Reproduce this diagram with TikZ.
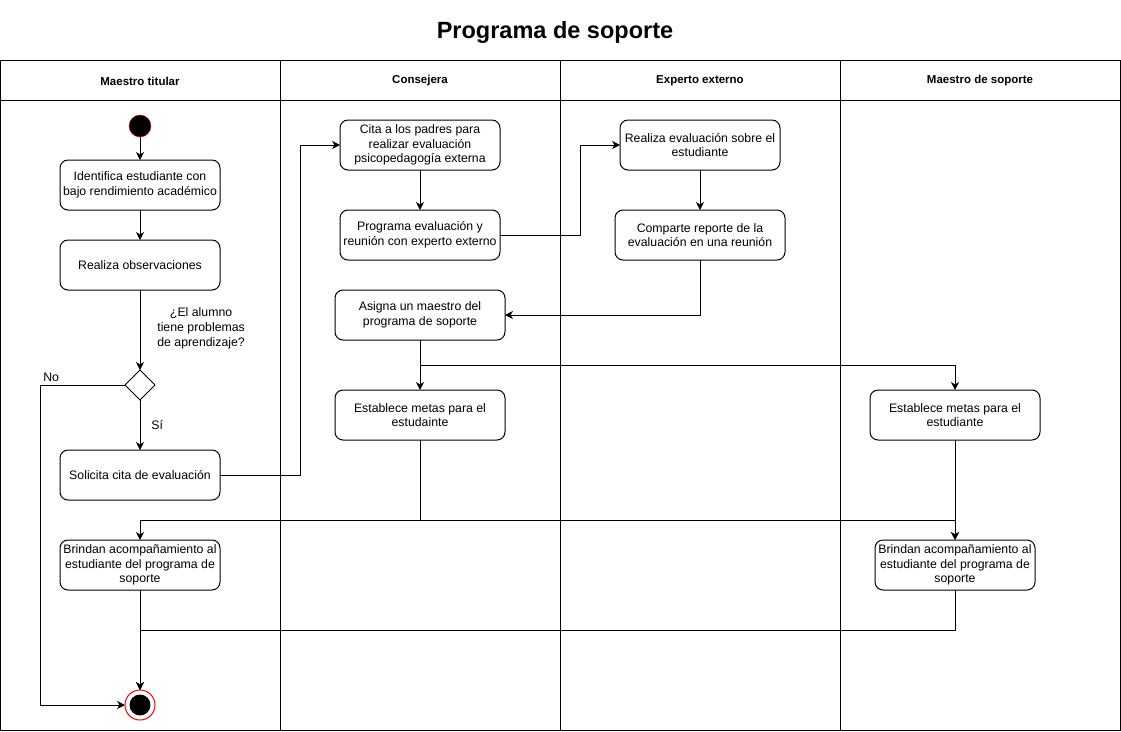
\documentclass[tikz,border=0pt]{standalone}
\usepackage{fontspec}
\setmainfont{Liberation Sans}
\usepackage{xcolor}
\usetikzlibrary{positioning,arrows.meta,shapes.geometric,calc}

\begin{document}
\begin{tikzpicture}[x=1pt,y=-1pt,node distance=30pt,every node/.style={outer sep=0pt,font=\fontsize{12.3}{14.7}\selectfont}]
\tikzset{sarrow/.style={-{Stealth[length=8pt,width=8pt,inset=2.5pt]},line width=1pt}}
\tikzset{act/.style={draw,line width=1pt,rounded corners=8pt,minimum width=160pt,minimum height=50pt,align=center,inner sep=1pt}}
\tikzset{lane/.style={draw,line width=1pt}}
\tikzset{lanetitle/.style={font=\fontsize{11.5}{14}\selectfont\bfseries}}

  \useasboundingbox (0,0) rectangle (1121,731);

  % pool
  \node(T) at (555,32) {\fontsize{23.5}{28}\selectfont\bfseries Programa de soporte};
  \draw[lane] (0.5,60) rectangle (1120,730);
  \draw[lane] (0.5,100) -- (1120,100);
  \foreach \x in {280,560,840} \draw[lane] (\x,60) -- (\x,730);
  \node(H0) [lanetitle] at (140,81) {Maestro titular};
  \node(H1) [lanetitle] at (420,81) {Consejera};
  \node(H2) [lanetitle] at (700,81) {Experto externo};
  \node(H3) [lanetitle] at (980,81) {Maestro de soporte};

  % Maestro titular
  \node(MT0) [circle,fill=black,draw=red,minimum size=22pt,inner sep=0pt] at (140,126) {};
  \node(MT1) [act,below=23pt of MT0] {Identifica estudiante con\\bajo rendimiento académico};
  \node(MT2) [act,below=of MT1] {Realiza observaciones};
  \node(D) [diamond,draw,line width=1pt,minimum size=30pt,inner sep=0pt,below=80pt of MT2] {};
  \node(MT3) [act,below=50pt of D] {Solicita cita de evaluación};
  \node(MT4) [act,below=40pt of MT3] {Brindan acompañamiento al\\estudiante del programa de\\soporte};
  \node(MT5) [circle,draw=red,line width=1pt,minimum size=30pt,inner sep=0pt,below=100pt of MT4] {};
  \node(MT5i) [circle,fill=black,minimum size=21pt,inner sep=0pt] at (MT5) {};

  % Consejera
  \node(C0) [act] at (420,145) {Cita a los padres para\\realizar evaluación\\psicopedagogía externa};
  \node(C1) [act,below=40pt of C0] {Programa evaluación y\\reunión con experto externo};
  \node(C2) [act,minimum width=170pt,below=of C1] {Asigna un maestro del\\programa de soporte};
  \node(C3) [act,minimum width=170pt,below=50pt of C2] {Establece metas para el\\estudainte};

  % Experto externo
  \node(E0) [act] at (700,145) {Realiza evaluación sobre el\\estudiante};
  \node(E1) [act,minimum width=170pt,below=40pt of E0] {Comparte reporte de la\\evaluación en una reunión};

  % Maestro de soporte
  \node(S0) [act,minimum width=170pt] at (955,415) {Establece metas para el\\estudiante};
  \node(S1) [act,below=100pt of S0] {Brindan acompañamiento al\\estudiante del programa de\\soporte};

  \draw[sarrow] (MT0) -- (MT1);
  \draw[sarrow] (MT1) -- (MT2);
  \draw[sarrow] (MT2) -- node[anchor=west,xshift=14pt,yshift=1.5pt,align=center] {¿El alumno\\tiene problemas\\de aprendizaje?} (D);
  \draw[sarrow] (D) -- node[right=8pt] {Sí} (MT3);
  \draw[sarrow] (D.west) -- ++(-85,0) node[above right] {No} |- (MT5.west);
  \draw[sarrow] (MT3.east) -- ++(80,0) |- (C0.west);
  \draw[sarrow] (C0) -- (C1);
  \draw[sarrow] (C1.east) -- ++(80,0) |- (E0.west);
  \draw[sarrow] (E0) -- (E1);
  \draw[sarrow] (E1.south) |- (C2.east);
  \draw[sarrow] (C2) -- (C3);
  \draw[sarrow] (C2.south) ++(0,25) -| (S0.north);
  \draw[sarrow] (C3.south) -- ++(0,80) -| (MT4.north);
  \draw[sarrow] (C3.south) -- ++(0,80) -| (S1.north);
  \draw[sarrow] (S0) -- (S1);
  \draw[sarrow] (MT4) -- (MT5);
  \draw[sarrow] (S1.south) -- ++(0,40) -| (MT5.north);
\end{tikzpicture}
\end{document}
